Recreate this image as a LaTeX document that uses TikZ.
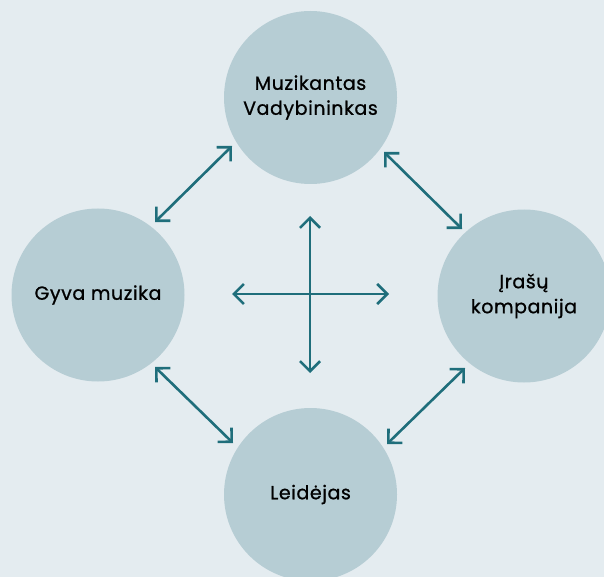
\documentclass[tikz,border=0pt]{standalone}
\usepackage{fontspec}
\setmainfont{Poppins}
\newfontface\lbl{Poppins}[FakeBold=0.9, LetterSpace=3]
\usetikzlibrary{arrows.meta}
\definecolor{bgc}{HTML}{E4ECF0}
\definecolor{circc}{HTML}{B6CDD4}
\definecolor{arrc}{HTML}{1F6E7B}
\tikzset{
  bubble/.style={circle, fill=circc, minimum size=173pt, inner sep=0pt, align=center, font=\lbl\fontsize{19}{25}\selectfont, text=black},
  link/.style={draw=arrc, line width=2.6pt, {Straight Barb[length=10pt,width=20pt]}-{Straight Barb[length=10pt,width=20pt]}}
}
\begin{document}
\begin{tikzpicture}[x=1pt,y=-1pt]
\fill[bgc] (0,0) rectangle (604,577);
\useasboundingbox (0,0) rectangle (604,577);
\clip (0,0) rectangle (604,577);
\node[bubble] (top) at (310.5,97.5) {Muzikantas\\Vadybininkas};
\node[bubble] (left) at (98,295) {Gyva muzika};
\node[bubble] (right) at (524,296) {Įrašų\\kompanija};
\node[bubble] (bottom) at (310.5,494.5) {Leidėjas};
\coordinate (a1) at (155,222);
\coordinate (a2) at (232,146);
\coordinate (b1) at (384,152);
\coordinate (b2) at (462,229);
\coordinate (c1) at (155,367);
\coordinate (c2) at (233,443);
\coordinate (d1) at (387,444);
\coordinate (d2) at (465,368);
\coordinate (v1) at (310,216);
\coordinate (v2) at (310,373);
\coordinate (h1) at (232,294);
\coordinate (h2) at (389,294);
\draw[link] (a1) -- (a2);
\draw[link] (b1) -- (b2);
\draw[link] (c1) -- (c2);
\draw[link] (d1) -- (d2);
\draw[link] (v1) -- (v2);
\draw[link] (h1) -- (h2);
\end{tikzpicture}
\end{document}
